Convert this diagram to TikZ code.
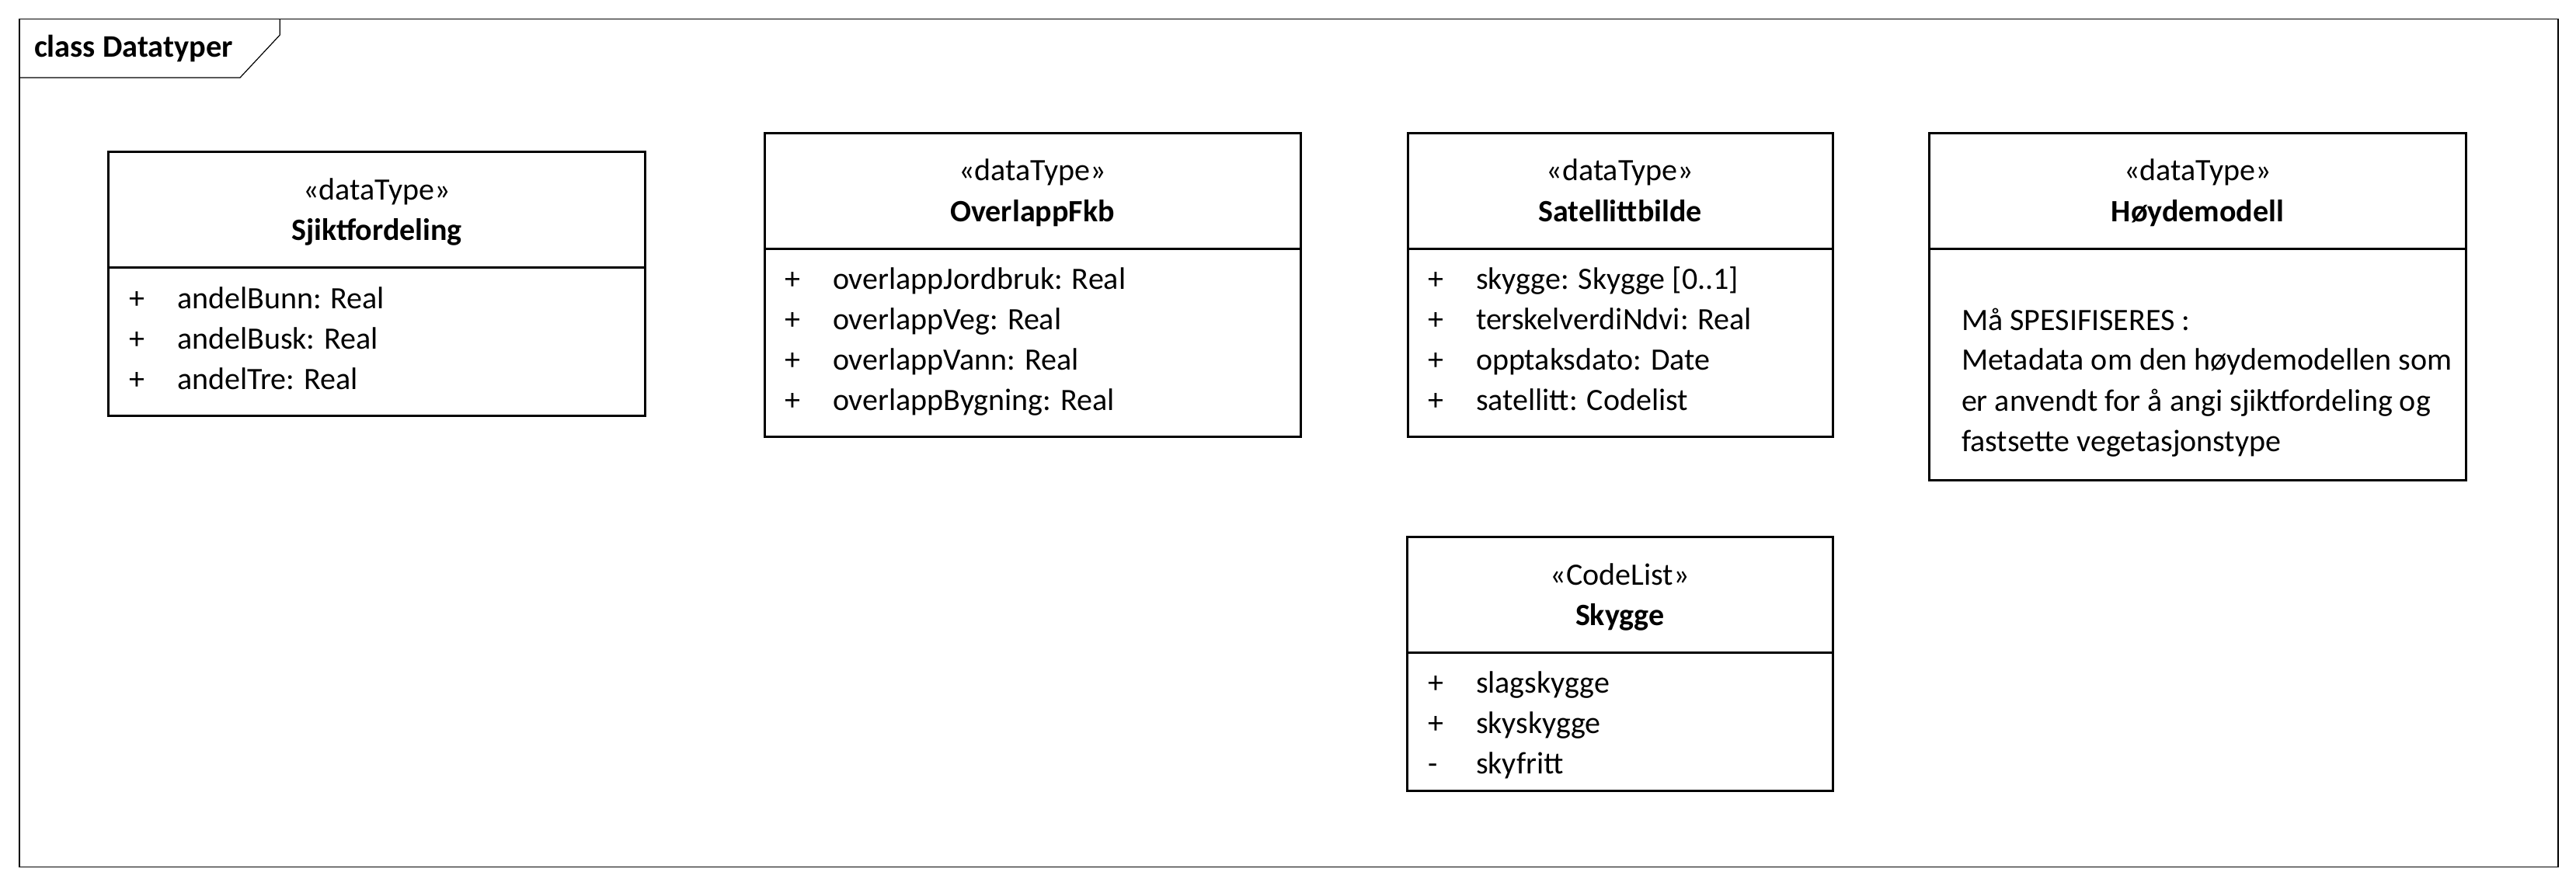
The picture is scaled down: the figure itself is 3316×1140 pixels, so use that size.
\documentclass[tikz,border=0pt]{standalone}
\usepackage{fontspec}
\setmainfont{Carlito}
\begin{document}
\begin{tikzpicture}[x=0.25pt,y=-0.25pt,
  umlbox/.style={draw=black,line width=0.75pt,inner sep=0pt,outer sep=0pt,anchor=north west},
  divline/.style={draw=black,line width=0.75pt},
  framebox/.style={draw=black,line width=0.3pt,inner sep=0pt,outer sep=0pt,anchor=north west},
  txt/.style={inner sep=0pt,outer sep=0pt,font=\fontsize{10}{13}\selectfont},
  stereo/.style={txt,anchor=base},
  cname/.style={txt,anchor=base,font=\fontsize{10}{13}\selectfont\bfseries},
  vis/.style={txt,anchor=base west},
  attr/.style={txt,anchor=base west}
]
\useasboundingbox (0,0) rectangle (3316,1140);
% frame
\node[framebox,minimum width=817pt,minimum height=272.9pt] (frame) at (25,24.5) {};
\coordinate (tabA) at (25,100);
\coordinate (tabB) at (309,100);
\coordinate (tabC) at (360.3,45);
\coordinate (tabD) at (360.3,24.5);
\draw[line width=0.3pt] (tabA) -- (tabB) -- (tabC) -- (tabD);
\node[txt,anchor=base west,font=\fontsize{10.1}{13}\selectfont\bfseries] (title) at (44,73) {class Datatyper};

% Sjiktfordeling
\node[umlbox,minimum width=172.78pt,minimum height=85pt] (sjikt) at (139.5,195) {};
\coordinate (sjiktDL) at (139.5,344);
\coordinate (sjiktDR) at (830.6,344);
\draw[divline] (sjiktDL) -- (sjiktDR);
\node[stereo] (sjiktS) at (485,257) {«dataType»};
\node[cname] (sjiktN) at (485,309) {Sjiktfordeling};
\node[vis] (sjiktV1) at (166,397) {+};
\node[vis] (sjiktV2) at (166,449) {+};
\node[vis] (sjiktV3) at (166,501) {+};
\node[attr] (sjiktA1) at (228,397) {andelBunn: Real};
\node[attr] (sjiktA2) at (228,449) {andelBusk: Real};
\node[attr] (sjiktA3) at (228,501) {andelTre: Real};

% OverlappFkb
\node[umlbox,minimum width=172.5pt,minimum height=97.75pt] (overl) at (984,171.7) {};
\coordinate (overlDL) at (984,320);
\coordinate (overlDR) at (1674,320);
\draw[divline] (overlDL) -- (overlDR);
\node[stereo] (overlS) at (1329,232.7) {«dataType»};
\node[cname] (overlN) at (1329,285) {OverlappFkb};
\node[vis] (overlV1) at (1010,372.7) {+};
\node[vis] (overlV2) at (1010,424.7) {+};
\node[vis] (overlV3) at (1010,476.7) {+};
\node[vis] (overlV4) at (1010,528.7) {+};
\node[attr] (overlA1) at (1072,372.7) {overlappJordbruk: Real};
\node[attr] (overlA2) at (1072,424.7) {overlappVeg: Real};
\node[attr] (overlA3) at (1072,476.7) {overlappVann: Real};
\node[attr] (overlA4) at (1072,528.7) {overlappBygning: Real};

% Satellittbilde
\node[umlbox,minimum width=136.75pt,minimum height=97.75pt] (sat) at (1812,171.7) {};
\coordinate (satDL) at (1812,320);
\coordinate (satDR) at (2359,320);
\draw[divline] (satDL) -- (satDR);
\node[stereo] (satS) at (2085.5,232.7) {«dataType»};
\node[cname] (satN) at (2085.5,285) {Satellittbilde};
\node[vis] (satV1) at (1838,372.7) {+};
\node[vis] (satV2) at (1838,424.7) {+};
\node[vis] (satV3) at (1838,476.7) {+};
\node[vis] (satV4) at (1838,528.7) {+};
\node[attr] (satA1) at (1900,372.7) {skygge: Skygge [0..1]};
\node[attr] (satA2) at (1900,424.7) {terskelverdiNdvi: Real};
\node[attr] (satA3) at (1900,476.7) {opptaksdato: Date};
\node[attr] (satA4) at (1900,528.7) {satellitt: Codelist};

% Hoydemodell
\node[umlbox,minimum width=172.75pt,minimum height=111.6pt] (hoyde) at (2483.5,171.7) {};
\coordinate (hoydeDL) at (2483.5,320);
\coordinate (hoydeDR) at (3174.5,320);
\draw[divline] (hoydeDL) -- (hoydeDR);
\node[stereo] (hoydeS) at (2829,232.7) {«dataType»};
\node[cname] (hoydeN) at (2829,285) {Høydemodell};
\node[attr] (hoydeT1) at (2525,425) {Må SPESIFISERES :};
\node[attr] (hoydeT2) at (2525,476.7) {Metadata om den høydemodellen som};
\node[attr] (hoydeT3) at (2525,529) {er anvendt for å angi sjiktfordeling og};
\node[attr] (hoydeT4) at (2525,581) {fastsette vegetasjonstype};

% Skygge
\node[umlbox,minimum width=136.9pt,minimum height=81.8pt] (skygge) at (1811.5,691.7) {};
\coordinate (skyggeDL) at (1811.5,840);
\coordinate (skyggeDR) at (2359,840);
\draw[divline] (skyggeDL) -- (skyggeDR);
\node[stereo] (skyggeS) at (2085.3,753) {«CodeList»};
\node[cname] (skyggeN) at (2085.3,805) {Skygge};
\node[vis] (skyggeV1) at (1838,892.7) {+};
\node[vis] (skyggeV2) at (1838,944.7) {+};
\node[vis] (skyggeV3) at (1838,996.7) {-};
\node[attr] (skyggeA1) at (1900,892.7) {slagskygge};
\node[attr] (skyggeA2) at (1900,944.7) {skyskygge};
\node[attr] (skyggeA3) at (1900,996.7) {skyfritt};
\end{tikzpicture}
\end{document}
